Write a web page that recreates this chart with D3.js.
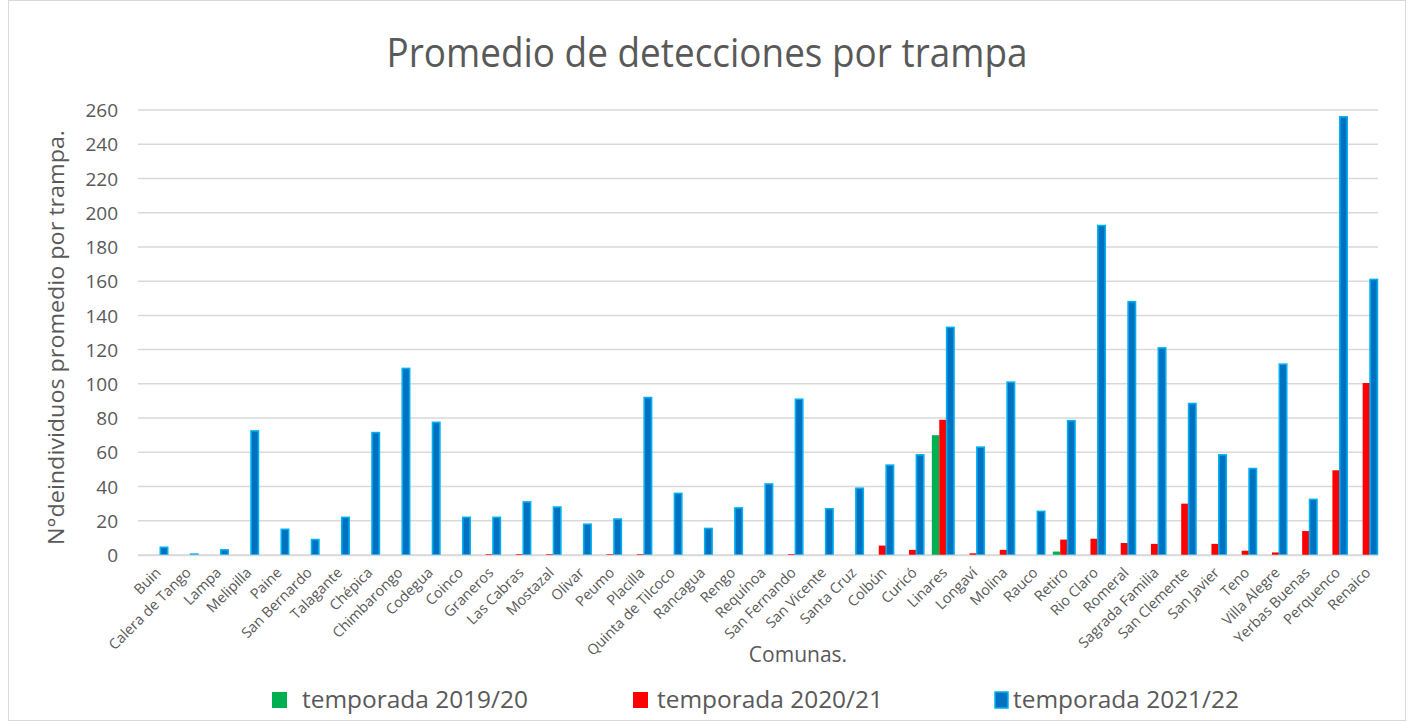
<!DOCTYPE html>
<html>
<head>
<meta charset="utf-8">
<script src="https://cdn.jsdelivr.net/npm/d3@7"></script>
<style>
  body { margin: 0; background: #fff; }
  text { font-family: "Open Sans", sans-serif; fill: #595959; }
</style>
</head>
<body>
<div id="chart"></div>
<script>
// comunas and values per season
var comunas = ["Buin", "Calera de Tango", "Lampa", "Melipilla", "Paine", "San Bernardo", "Talagante",
  "Chépica", "Chimbarongo", "Codegua", "Coinco", "Graneros", "Las Cabras", "Mostazal", "Olivar",
  "Peumo", "Placilla", "Quinta de Tilcoco", "Rancagua", "Rengo", "Requínoa", "San Fernando",
  "San Vicente", "Santa Cruz", "Colbún", "Curicó", "Linares", "Longaví", "Molina", "Rauco",
  "Retiro", "Rio Claro", "Romeral", "Sagrada Familia", "San Clemente", "San Javier", "Teno",
  "Villa Alegre", "Yerbas Buenas", "Perquenco", "Renaico"];

var t1920 = [0, 0, 0, 0, 0, 0, 0, 0, 0, 0, 0, 0, 0, 0, 0, 0, 0, 0, 0, 0, 0, 0, 0, 0, 0, 0,
  70, 0, 0, 0, 2, 0, 0, 0, 0, 0, 0, 0, 0, 0, 0];
var t2021 = [0, 0, 0, 0, 0, 0, 0, 0, 0, 0, 0, 0.5, 0.5, 0.5, 0, 0.5, 0.5, 0, 0, 0, 0, 0.5, 0, 0,
  5.5, 3, 79, 1, 3, 0, 9, 9.5, 7, 6.5, 30, 6.5, 2.5, 1.5, 14, 49.5, 100.5];
var t2122 = [4.5, 0.5, 3, 72.5, 15, 9, 22, 71.5, 109, 77.5, 22, 22, 31, 28, 18, 21, 92, 36, 15.5,
  27.5, 41.5, 91, 27, 39, 52.5, 58.5, 133, 63, 101, 25.5, 78.5, 192.5, 148, 121, 88.5, 58.5,
  50.5, 111.5, 32.5, 256, 161];

var yTicks = d3.range(0, 261, 20);
var seasons = ["temporada 2019/20", "temporada 2020/21", "temporada 2021/22"];

var width = 1411,
    height = 722,
    margin = {top: 110, right: 33, bottom: 167, left: 138};

var svg = d3.select("#chart")
    .append("svg")
    .attr("width", width)
    .attr("height", height);

// outer chart frame
svg.append("rect")
    .attr("x", 8.5).attr("y", 0.5)
    .attr("width", width - 14).attr("height", height - 2)
    .attr("fill", "none")
    .attr("stroke", "#d9d9d9");

var x = d3.scaleBand()
    .domain(comunas)
    .range([margin.left, width - margin.right]);

var x1 = d3.scaleBand()
    .domain([0, 1, 2])
    .range([7.5, 30.2 - 0.5]);

var y = d3.scaleLinear()
    .domain([0, 260])
    .range([height - margin.bottom, margin.top]);

// gridlines
svg.append("g")
    .selectAll("line")
    .data(yTicks)
    .enter().append("line")
    .attr("x1", margin.left)
    .attr("x2", width - margin.right)
    .attr("y1", function(d) { return y(d); })
    .attr("y2", function(d) { return y(d); })
    .attr("stroke", "#d9d9d9")
    .attr("stroke-width", 1.5);

// y axis labels
var yAxis = svg.append("g")
    .attr("transform", "translate(" + (margin.left - 12) + ",0)")
    .call(d3.axisLeft(y).tickValues(yTicks).tickSize(0).tickPadding(8));
yAxis.select(".domain").remove();
yAxis.selectAll("text")
    .style("font-size", "19px")
    .attr("fill", "#595959")
    .attr("dy", "0.35em");

// bars
var colors = ["#00B050", "#FF0000", "#0070C0"];
var series = [t1920, t2021, t2122];

series.forEach(function(vals, s) {
  svg.append("g")
    .selectAll("rect")
    .data(vals)
    .enter().append("rect")
    .attr("x", function(d, i) { return x(comunas[i]) + x1(s); })
    .attr("width", x1.bandwidth())
    .attr("y", function(d) { return y(d); })
    .attr("height", function(d) { return y(0) - y(d); })
    .attr("fill", colors[s])
    .attr("stroke", s == 2 ? "#00B0F0" : "none")
    .attr("stroke-width", 1.6);
});

// x axis baseline
svg.append("line")
    .attr("x1", margin.left).attr("x2", width - margin.right)
    .attr("y1", y(0) + 0.5).attr("y2", y(0) + 0.5)
    .attr("stroke", "#d9d9d9")
    .attr("stroke-width", 1.5);

// x labels
svg.append("g")
    .selectAll("text")
    .data(comunas)
    .enter().append("text")
    .attr("transform", function(d) {
      return "translate(" + (x(d) + x.bandwidth() / 2 + 5) + "," + (y(0) + 15) + ")rotate(-45)";
    })
    .attr("text-anchor", "end")
    .attr("dy", "0.35em")
    .style("font-size", "14.5px")
    .text(function(d) { return d; });

// title
svg.append("text")
    .attr("x", 707).attr("y", 67)
    .attr("text-anchor", "middle")
    .attr("textLength", 641)
    .attr("lengthAdjust", "spacingAndGlyphs")
    .style("font-size", "41px")
    .text("Promedio de detecciones por trampa");

// axis titles
svg.append("text")
    .attr("transform", "translate(64," + ((y(0) + y(260)) / 2 + 5) + ")rotate(-90)")
    .attr("text-anchor", "middle")
    .attr("textLength", 415)
    .attr("lengthAdjust", "spacingAndGlyphs")
    .style("font-size", "22px")
    .text("N°deindividuos promedio por trampa.");

svg.append("text")
    .attr("x", 798).attr("y", 662)
    .attr("text-anchor", "middle")
    .style("font-size", "21px")
    .text("Comunas.");

// legend
var legendX = [272, 633, 995];
var legend = svg.append("g")
    .selectAll("g")
    .data(seasons)
    .enter().append("g")
    .attr("transform", function(d, i) { return "translate(" + legendX[i] + ",692)"; });

legend.append("rect")
    .attr("width", function(d, i) { return i == 2 ? 13 : 15; })
    .attr("height", 16)
    .attr("fill", function(d, i) { return colors[i]; })
    .attr("stroke", function(d, i) { return i == 2 ? "#00B0F0" : "none"; })
    .attr("stroke-width", 1.5);

legend.append("text")
    .attr("x", function(d, i) { return i == 0 ? 30 : (i == 1 ? 24 : 18); })
    .attr("y", 16)
    .attr("textLength", 226)
    .attr("lengthAdjust", "spacingAndGlyphs")
    .style("font-size", "24px")
    .text(function(d) { return d; });
</script>
</body>
</html>
